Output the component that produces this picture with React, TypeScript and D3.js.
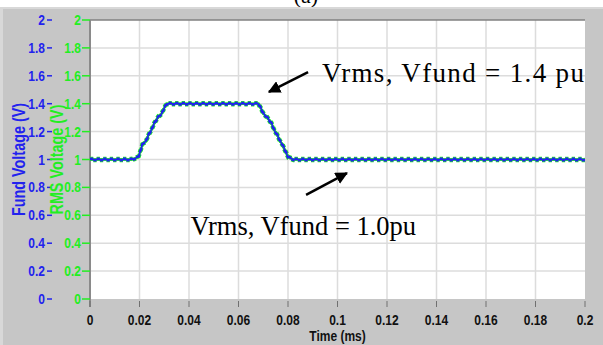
import React from 'react';
import * as d3 from 'd3';

// waveform (time in ms, voltage in pu)
const timeMs = [0, 0.0168, 0.0195, 0.0205, 0.0213, 0.0226, 0.0236, 0.0249, 0.0259, 0.0276, 0.029, 0.0299, 0.031,
  0.068, 0.0691, 0.07, 0.0714, 0.0734, 0.0743, 0.0757, 0.0768, 0.0777, 0.0788, 0.0801, 0.0822, 0.2];
const rmsVoltage = [1.0, 1.0, 1.016, 1.068, 1.116, 1.13, 1.175, 1.215, 1.258, 1.306, 1.33, 1.366, 1.4,
  1.4, 1.366, 1.33, 1.306, 1.258, 1.215, 1.175, 1.13, 1.11, 1.065, 1.016, 1.0, 1.0];
const fundVoltage = [1.0, 1.0, 1.016, 1.068, 1.116, 1.13, 1.175, 1.215, 1.258, 1.306, 1.33, 1.366, 1.4,
  1.4, 1.366, 1.33, 1.306, 1.258, 1.215, 1.175, 1.13, 1.11, 1.065, 1.016, 1.0, 1.0];

const xTicks = [0, 0.02, 0.04, 0.06, 0.08, 0.1, 0.12, 0.14, 0.16, 0.18, 0.2];
const yTicks = [0, 0.2, 0.4, 0.6, 0.8, 1, 1.2, 1.4, 1.6, 1.8, 2];

const W = 603;
const H = 345;
const plot = { left: 90, right: 585, top: 20, bottom: 299 };

const BLUE = '#2222ee';
const GREEN = '#22ee22';
const LABEL_FONT = '"Liberation Sans", Arial, sans-serif';
const SERIF = '"Liberation Serif", "Times New Roman", serif';

const fmt = (v: number) => String(+v.toFixed(2));

// narrow bold label (the original uses a condensed face)
function Narrow({ x, y, anchor = 'middle', color = '#111', size = 15, rotate = 0, children }:
  { x: number; y: number; anchor?: string; color?: string; size?: number; rotate?: number; children: React.ReactNode }) {
  return (
    <text transform={`translate(${x},${y}) rotate(${rotate}) scale(0.8,1)`} textAnchor={anchor}
      fontFamily={LABEL_FONT} fontWeight="bold" fontSize={size} fill={color}>
      {children}
    </text>
  );
}

function Wave({ d, color, width }: { d: string; color: string; width: number }) {
  // ripple drawn as two dashed copies shifted up/down
  return (
    <g>
      <path d={d} transform="translate(0,-0.8)" fill="none" stroke={color} strokeWidth={width}
        strokeDasharray="3.3 3.3" />
      <path d={d} transform="translate(0,0.8)" fill="none" stroke={color} strokeWidth={width}
        strokeDasharray="3.3 3.3" strokeDashoffset={3.3} />
      <path d={d} fill="none" stroke={color} strokeWidth={width * 0.6} />
    </g>
  );
}

export default function App() {
  const x = d3.scaleLinear().domain([0, 0.2]).range([plot.left, plot.right]);
  const y = d3.scaleLinear().domain([0, 2]).range([plot.bottom, plot.top]);

  const line = d3.line<number>()
    .x((_, i) => x(timeMs[i]))
    .y(v => y(v));

  const rmsPath = line(rmsVoltage) || '';
  const fundPath = line(fundVoltage) || '';

  const arrows = [
    { from: [0.0881, 1.627], to: [0.0723, 1.484] },
    { from: [0.0873, 0.746], to: [0.1038, 0.903] },
  ];

  return (
    <svg width={W} height={H} style={{ position: 'absolute', left: 0, top: 0, background: '#fff' }}>
      <defs>
        <marker id="head" viewBox="0 0 10 10" refX="9" refY="5" markerWidth="5" markerHeight="5"
          orient="auto" markerUnits="strokeWidth">
          <path d="M0,0 L10,5 L0,10 z" fill="#000" />
        </marker>
        <clipPath id="plotClip">
          <rect x={plot.left} y={plot.top} width={plot.right - plot.left} height={plot.bottom - plot.top} />
        </clipPath>
      </defs>

      {/* caption, mostly hidden above the panel */}
      <text x={306} y={3} textAnchor="middle" fontFamily={SERIF} fontSize={22} fill="#000">(a)</text>

      {/* panel */}
      <rect x={0} y={7} width={W} height={H - 7} fill="#d8d8d8" />
      <rect x={3} y={9} width={W - 3} height={H - 9} fill="#c6c6c6" />

      {/* plot area */}
      <rect x={plot.left} y={plot.top} width={plot.right - plot.left} height={plot.bottom - plot.top} fill="#fff" />

      {/* grid */}
      {xTicks.slice(1, -1).map(t => (
        <line key={'gx' + t} x1={x(t)} x2={x(t)} y1={plot.top} y2={plot.bottom} stroke="#dcdcdc" strokeWidth={1.5} />
      ))}
      {yTicks.slice(1, -1).map(t => (
        <line key={'gy' + t} x1={plot.left} x2={plot.right} y1={y(t)} y2={y(t)} stroke="#dcdcdc" strokeWidth={1.5} />
      ))}

      {/* frame */}
      <line x1={plot.left} x2={plot.right} y1={plot.top} y2={plot.top} stroke="#808080" strokeWidth={1.5} />
      <line x1={plot.left} x2={plot.left} y1={plot.top} y2={plot.bottom + 8} stroke="#8a8a8a" strokeWidth={2} />

      {/* x axis */}
      {xTicks.map(t => (
        <g key={'xt' + t}>
          <line x1={x(t)} x2={x(t)} y1={plot.bottom + 2} y2={plot.bottom + 8} stroke="#707070" strokeWidth={1} />
          <Narrow x={x(t)} y={325}>{fmt(t)}</Narrow>
        </g>
      ))}
      <Narrow x={(plot.left + plot.right) / 2} y={341}>Time (ms)</Narrow>

      {/* y axes: fund (blue) and rms (green) */}
      {yTicks.map(t => (
        <g key={'yt' + t}>
          <Narrow x={45} y={y(t) + 5} anchor="end" color={BLUE}>{fmt(t)}</Narrow>
          <line x1={47} x2={52} y1={y(t)} y2={y(t)} stroke={BLUE} strokeWidth={1.5} />
          <Narrow x={81} y={y(t) + 5} anchor="end" color={GREEN}>{fmt(t)}</Narrow>
          <line x1={82} x2={plot.left} y1={y(t)} y2={y(t)} stroke={GREEN} strokeWidth={1.5} />
        </g>
      ))}
      <Narrow x={25} y={y(1)} rotate={-90} size={18} color={BLUE}>Fund Voltage (V)</Narrow>
      <Narrow x={63} y={y(1)} rotate={-90} size={18} color={GREEN}>RMS Voltage (V)</Narrow>

      {/* series */}
      <g clipPath="url(#plotClip)">
        <Wave d={rmsPath} color={GREEN} width={4} />
        <Wave d={fundPath} color={BLUE} width={2.4} />
      </g>

      {/* annotations */}
      {arrows.map((a, i) => (
        <line key={'ar' + i} x1={x(a.from[0])} y1={y(a.from[1])} x2={x(a.to[0])} y2={y(a.to[1])}
          stroke="#000" strokeWidth={2.5} markerEnd="url(#head)" />
      ))}
      <text x={x(0.0937)} y={y(1.556)} fontFamily={SERIF} fontSize={27} textLength={262} lengthAdjust="spacing"
        fill="#000">Vrms, Vfund = 1.4 pu</text>
      <text x={x(0.0406)} y={y(0.459)} fontFamily={SERIF} fontSize={26.5} fill="#000">Vrms, Vfund = 1.0pu</text>
    </svg>
  );
}
